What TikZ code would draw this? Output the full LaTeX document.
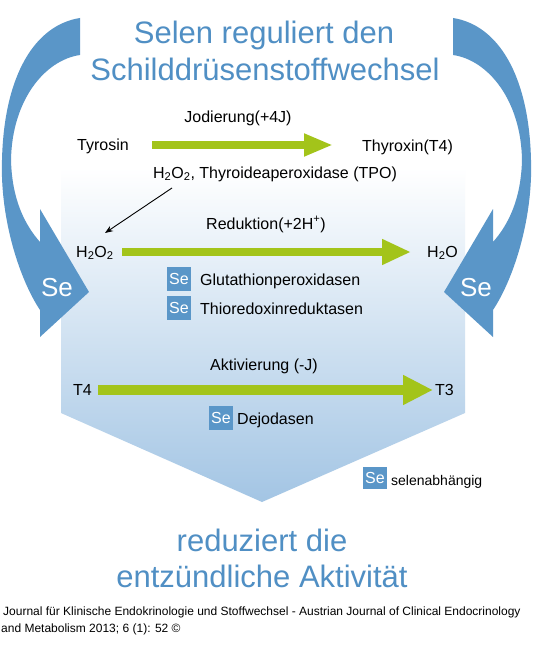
\documentclass[tikz,border=0pt]{standalone}
\usepackage{fontspec}
\setmainfont{Liberation Sans}
\usetikzlibrary{arrows.meta}
\definecolor{tblue}{RGB}{80,143,196}
\definecolor{ablue}{RGB}{90,150,200}
\definecolor{lgreen}{RGB}{163,196,26}
\definecolor{bgblue}{RGB}{163,197,228}
\begin{document}
\begin{tikzpicture}[x=1pt,y=-1pt,
  title/.style={font=\fontsize{31}{36}\selectfont, text=tblue, inner sep=0, anchor=base},
  lbl/.style={font=\fontsize{16}{19}\selectfont, inner sep=0, anchor=base},
  smalllbl/.style={font=\fontsize{14}{17}\selectfont, inner sep=0, anchor=base west},
  footlbl/.style={font=\fontsize{12}{14}\selectfont, inner sep=0, anchor=base west},
  sebox/.style={fill=ablue, text=white, font=\fontsize{16}{19}\selectfont, minimum width=24pt, minimum height=24pt, inner sep=0},
  bigse/.style={text=white, font=\fontsize{26}{30}\selectfont, inner sep=0},
  garrow/.style={draw=lgreen, line width=#1},
  curvedarrow/.style={fill=ablue}
]
\useasboundingbox (0,0) rectangle (533,661);
\fill[white] (0,0) rectangle (533,661);

% background chevron box
\shade[top color=white, bottom color=bgblue] (61,168) -- (465,168) -- (465,413) -- (262,502) -- (61,413) -- cycle;

% curved arrows
\fill[curvedarrow] (80,18) .. controls (35,25) and (4,75) .. (2,160) .. controls (0,220) and (20,280) .. (40,310) -- (40,337) -- (89,292) -- (40,209) -- (40,242) .. controls (25,225) and (12,200) .. (11,160) .. controls (12,100) and (45,60) .. (80,55) -- cycle;
\begin{scope}[shift={(533,0)}, xscale=-1]
\fill[curvedarrow] (80,18) .. controls (35,25) and (4,75) .. (2,160) .. controls (0,220) and (20,280) .. (40,310) -- (40,337) -- (89,292) -- (40,209) -- (40,242) .. controls (25,225) and (12,200) .. (11,160) .. controls (12,100) and (45,60) .. (80,55) -- cycle;
\end{scope}
\node[bigse] (seL) at (57,288) {Se};
\node[bigse] (seR) at (476,288) {Se};

% titles
\node[title] (t1) at (264,44) {Selen reguliert den};
\node[title] (t2) at (265,81) {Schilddrüsenstoffwechsel};

% first reaction
\node[lbl] (jod) at (238,122) {Jodierung(+4J)};
\node[lbl, anchor=base west] (tyr) at (77,150) {Tyrosin};
\node[lbl, anchor=base west] (thx) at (362,151) {Thyroxin(T4)};
\coordinate (a1s) at (152,145);
\coordinate (a1e) at (333,145);
\draw[garrow=8pt, -{Triangle[length=29pt,width=21pt]}] (a1s) -- (a1e);
\node[lbl] (tpo) at (275,178) {H\textsubscript{2}O\textsubscript{2}, Thyroideaperoxidase (TPO)};
\coordinate (bs) at (172,188);
\coordinate (be) at (105,233);
\draw[line width=0.9pt, -{Stealth[length=8pt,width=6pt]}] (bs) -- (be);

% second reaction
\node[lbl] (red) at (266,229) {Reduktion(+2H\textsuperscript{+})};
\node[lbl, anchor=base west] (h2o2) at (76,257) {H\textsubscript{2}O\textsubscript{2}};
\node[lbl, anchor=base west] (h2o) at (427,257) {H\textsubscript{2}O};
\coordinate (a2s) at (122,252);
\coordinate (a2e) at (411,252);
\draw[garrow=8pt, -{Triangle[length=29pt,width=24pt]}] (a2s) -- (a2e);
\node[sebox] (se1) at (179,279) {Se};
\node[lbl, anchor=base west] (gpx) at (200,285) {Glutathionperoxidasen};
\node[sebox] (se2) at (179,308) {Se};
\node[lbl, anchor=base west] (trx) at (200,314) {Thioredoxinreduktasen};

% third reaction
\node[lbl] (akt) at (264,370) {Aktivierung (-J)};
\node[lbl, anchor=base west] (t4) at (73,395) {T4};
\node[lbl, anchor=base west] (t3) at (435,395) {T3};
\coordinate (a3s) at (98,390);
\coordinate (a3e) at (433,390);
\draw[garrow=10pt, -{Triangle[length=30pt,width=28pt]}] (a3s) -- (a3e);
\node[sebox] (se3) at (221,418) {Se};
\node[lbl, anchor=base west] (dej) at (237,424) {Dejodasen};

% legend
\node[sebox, minimum height=22pt] (se4) at (375,478) {Se};
\node[smalllbl] (sel) at (391,485) {selenabhängig};

% bottom text
\node[title] (b1) at (262,551) {reduziert die};
\node[title] (b2) at (262,587) {entzündliche Aktivität};

% footer
\node[footlbl] (f1) at (3,615) {Journal für Klinische Endokrinologie und Stoffwechsel - Austrian Journal of Clinical Endocrinology};
\node[footlbl] (f2) at (1,632) {and Metabolism 2013; 6 (1): 52 ©};
\end{tikzpicture}
\end{document}
